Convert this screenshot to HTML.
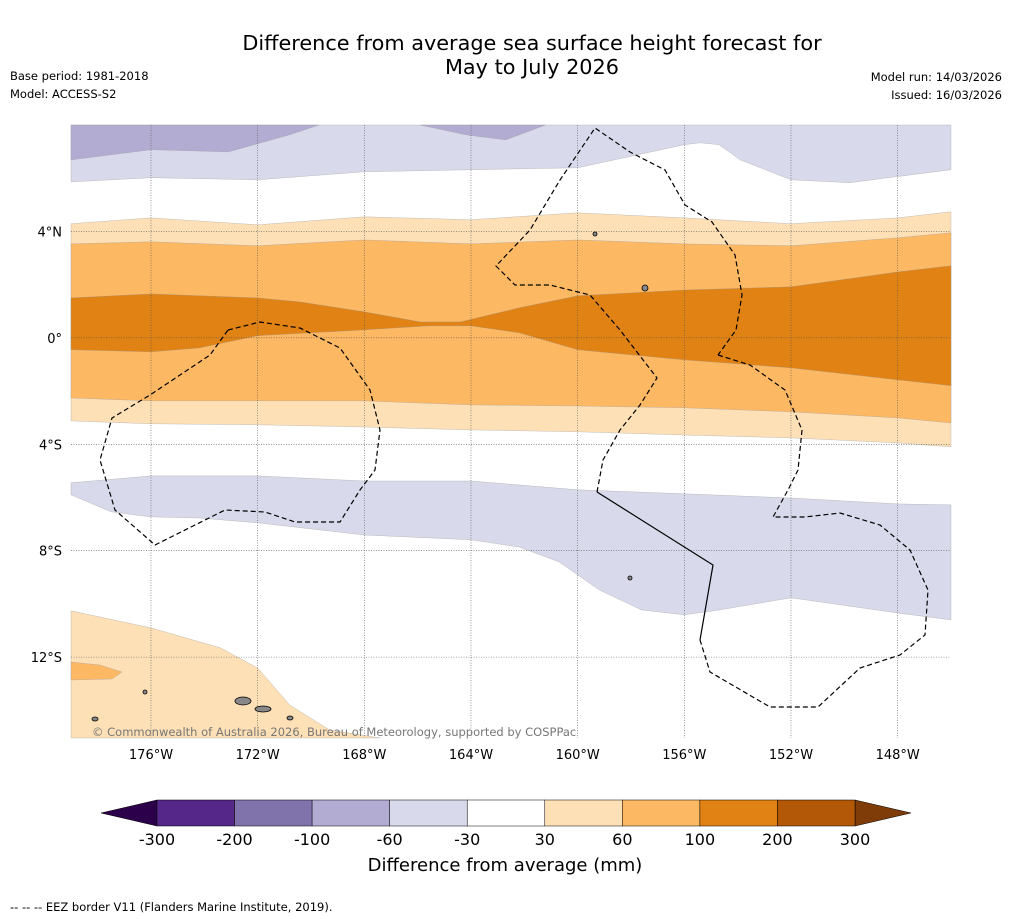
<!DOCTYPE html>
<html><head><meta charset="utf-8"><style>
body{margin:0;background:#fff;font-family:"Liberation Sans","DejaVu Sans",sans-serif;}
svg{display:block}
</style></head><body>
<svg id="chart" width="1011" height="919" viewBox="0 0 1011 919" font-family="DejaVu Sans, Liberation Sans, sans-serif">
<text x="532" y="50" font-size="20.8" text-anchor="middle">Difference from average sea surface height forecast for</text>
<text x="532" y="74" font-size="20.8" text-anchor="middle">May to July 2026</text>
<text x="10" y="80" font-size="11.5">Base period: 1981-2018</text>
<text x="10" y="98" font-size="11.5">Model: ACCESS-S2</text>
<text x="1002" y="81" font-size="11.5" text-anchor="end">Model run: 14/03/2026</text>
<text x="1002" y="99" font-size="11.5" text-anchor="end">Issued: 16/03/2026</text>
<g id="map"></g>
<g id="cbar"></g>
<text x="505" y="871" font-size="18" text-anchor="middle">Difference from average (mm)</text>
<text x="10" y="911" font-size="11.5">--  --  -- EEZ border V11 (Flanders Marine Institute, 2019).</text>
</svg>
<script>
const lonStd=[-179,-176,-172,-168,-164,-160,-156,-152,-148,-146];
const c30u=[4.29,4.51,4.25,4.55,4.44,4.70,4.51,4.29,4.51,4.74];
const c60u=[3.53,3.61,3.46,3.68,3.53,3.68,3.53,3.46,3.76,3.95];
const lon100u=[-179,-176,-172,-170.4,-168,-165.9,-164.4,-162.2,-160,-156,-152,-148,-146];
const c100u=[1.50,1.65,1.50,1.35,0.98,0.60,0.60,1.13,1.58,1.80,1.92,2.48,2.71];
const lon100l=[-179,-176,-174.2,-172,-168,-165.6,-164,-162.2,-160,-156,-152,-148,-146];
const c100l=[-0.45,-0.53,-0.38,0.08,0.30,0.45,0.45,0.19,-0.45,-0.83,-1.13,-1.58,-1.80];
const c60l=[-2.26,-2.37,-2.37,-2.37,-2.52,-2.56,-2.63,-2.78,-3.01,-3.20];
const c30l=[-3.12,-3.23,-3.27,-3.35,-3.46,-3.53,-3.65,-3.76,-3.95,-4.10];
const cm30u=[-5.45,-5.19,-5.19,-5.38,-5.38,-5.71,-5.86,-6.02,-6.24,-6.28];
const lonm30l=[-179,-177.5,-176,-174.2,-172,-168,-164,-162.2,-160.7,-159.2,-157.6,-156,-154.7,-152,-148,-146];
const cm30l=[-5.90,-6.54,-6.73,-6.77,-6.95,-7.41,-7.59,-7.86,-8.42,-9.47,-10.23,-10.41,-10.23,-9.77,-10.34,-10.60];
const lonTopM30=[-179,-176,-172,-168,-164,-160,-156,-155.4,-154.7,-153.9,-152,-149.8,-146];
const cTopM30=[5.86,6.02,5.94,6.24,6.32,6.39,7.26,7.33,7.26,6.69,5.94,5.83,6.32];
const lonTopM60a=[-179,-176,-173.1,-170.8,-169.7];
const cTopM60a=[6.69,7.07,6.99,7.63,8.0];
const lonTopM60b=[-165.9,-164.2,-162.7,-161.2];
const cTopM60b=[8,7.63,7.44,8];
const lonSW30=[-179,-176,-173.4,-172,-170.8,-169.3,-167.4];
const cSW30=[-10.26,-10.90,-11.65,-12.41,-13.80,-14.74,-15.04];
const lonTicks=[-176,-172,-168,-164,-160,-156,-152,-148];
const lonTickLabels=["176°W","172°W","168°W","164°W","160°W","156°W","152°W","148°W"];
const latTicks=[4,0,-4,-8,-12];
const latTickLabels=["4°N","0°","4°S","8°S","12°S"];
const cbLevels=["-300","-200","-100","-60","-30","30","60","100","200","300"];
const cbColors=["#542788","#8073ac","#b2abd2","#d8daeb","#ffffff","#fee0b6","#fdb863","#e08214","#b35806"];

const X0=71,X1=951,Y0=125,Y1=738,LON0=-179,LON1=-146,LAT0=8,LAT1=-15.04;
const x=l=>X0+(l-LON0)/(LON1-LON0)*(X1-X0);
const y=l=>Y0+(LAT0-l)/(LAT0-LAT1)*(Y1-Y0);
const NS="http://www.w3.org/2000/svg";
const map=document.getElementById('map');
function mk(tag,attrs,parent){const e=document.createElementNS(NS,tag);for(const k in attrs)e.setAttribute(k,attrs[k]);parent.appendChild(e);return e;}
function pts(lons,lats){return lons.map((l,i)=>x(l).toFixed(1)+','+y(lats[i]).toFixed(1));}
function band(lonsA,a,lonsB,b,fill,name){
  const p=pts(lonsA,a).concat(pts(lonsB,b).reverse());
  const e=mk('polygon',{points:p.join(' '),fill:fill,stroke:'#999',"stroke-width":0.3},map);
  
  
}
const tops=v=>v.map(()=>LAT0);
mk('rect',{x:X0,y:Y0,width:X1-X0,height:Y1-Y0,fill:'#fff'},map);
band(lonTopM30,tops(lonTopM30),lonTopM30,cTopM30,'#d8daeb','band-top-minus30');
band(lonTopM60a,tops(lonTopM60a),lonTopM60a,cTopM60a,'#b2abd2','band-top-minus60-west');
band(lonTopM60b,tops(lonTopM60b),lonTopM60b,cTopM60b,'#b2abd2','band-top-minus60-central');
band(lonStd,c30u,lonStd,c30l,'#fee0b6','band-30');
band(lonStd,c60u,lonStd,c60l,'#fdb863','band-60');
band(lon100u,c100u,lon100l,c100l,'#e08214','band-100');
band(lonStd,cm30u,lonm30l,cm30l,'#d8daeb','band-south-minus30');
band(lonSW30,cSW30,[-179,-167.4],[-15.04,-15.04],'#fee0b6','band-southwest-30');
let sp=mk('polygon',{points:"71,662 100,665 122,672 112,679 71,680",fill:'#fdb863',stroke:'#999',"stroke-width":0.3},map);

lonTicks.forEach((l,i)=>{
  const g=mk('line',{x1:x(l),x2:x(l),y1:Y0,y2:Y1,stroke:'#555',"stroke-width":0.6,"stroke-dasharray":"1,1.5"},map);
  
  const t=mk('text',{x:x(l),y:759,"font-size":13,"text-anchor":"middle"},map);t.textContent=lonTickLabels[i];
  
});
latTicks.forEach((l,i)=>{
  const g=mk('line',{x1:X0,x2:X1,y1:y(l),y2:y(l),stroke:'#555',"stroke-width":0.6,"stroke-dasharray":"1,1.5"},map);
  
  const t=mk('text',{x:62,y:y(l)+5,"font-size":13,"text-anchor":"end"},map);t.textContent=latTickLabels[i];
  
});
const eez=[
 ["eez-border-tokelau","M228,330 L260,322 300,328 340,348 370,390 380,430 375,470 360,490 340,522 295,522 265,512 225,510 155,545 115,510 100,460 112,418 150,395 210,355 Z"],
 ["eez-border-line-islands","M597,492 L603,460 620,430 640,405 657,378 620,330 590,295 550,285 515,285 496,266 530,230 560,180 595,128 630,152 665,170 685,205 712,222 735,255 742,295 736,330 718,355"],
 ["eez-border-cook-islands","M718,355 L750,365 785,390 802,430 798,470 788,490 773,517 805,517 840,513 880,525 910,550 928,590 925,635 900,655 860,668 818,707 770,707 710,672 700,640"]];
eez.forEach(e=>{const p=mk('path',{d:e[1],fill:'none',stroke:'#000',"stroke-width":1.2,"stroke-dasharray":"5,3"},map);
 });
let sl=mk('path',{d:"M597,492 L713,565 L700,640",fill:'none',stroke:'#000',"stroke-width":1.2},map);

[[243,701,8,4],[263,709,8,3],[645,288,3,3],[595,234,2,2],[630,578,2,2],[145,692,2,2],[95,719,3,2],[290,718,3,2]].forEach(s=>{
 const e=mk('ellipse',{cx:s[0],cy:s[1],rx:s[2],ry:s[3],fill:'#888',stroke:'#000',"stroke-width":0.8},map);
 });
let cp=mk('text',{x:92,y:736,"font-size":11.5,fill:'#777'},map);cp.textContent="© Commonwealth of Australia 2026, Bureau of Meteorology, supported by COSPPac";

const cb=document.getElementById('cbar');
const CB0=157,CB1=855,CBY=800,CBH=26,w=(CB1-CB0)/cbColors.length;
let lt=mk('polygon',{points:`${CB0},${CBY} ${CB0},${CBY+CBH} 101,${CBY+CBH/2}`,fill:'#2d004b',stroke:'#000',"stroke-width":0.5},cb);

let rt=mk('polygon',{points:`${CB1},${CBY} ${CB1},${CBY+CBH} 911,${CBY+CBH/2}`,fill:'#7f3b08',stroke:'#000',"stroke-width":0.5},cb);

cbColors.forEach((c,i)=>{const r=mk('rect',{x:CB0+i*w,y:CBY,width:w,height:CBH,fill:c,stroke:'#000',"stroke-width":0.5},cb);
 });
cbLevels.forEach((s,i)=>{const t=mk('text',{x:CB0+i*w,y:845,"font-size":16,"text-anchor":"middle"},cb);t.textContent=s;
 });
</script>
</body></html>
